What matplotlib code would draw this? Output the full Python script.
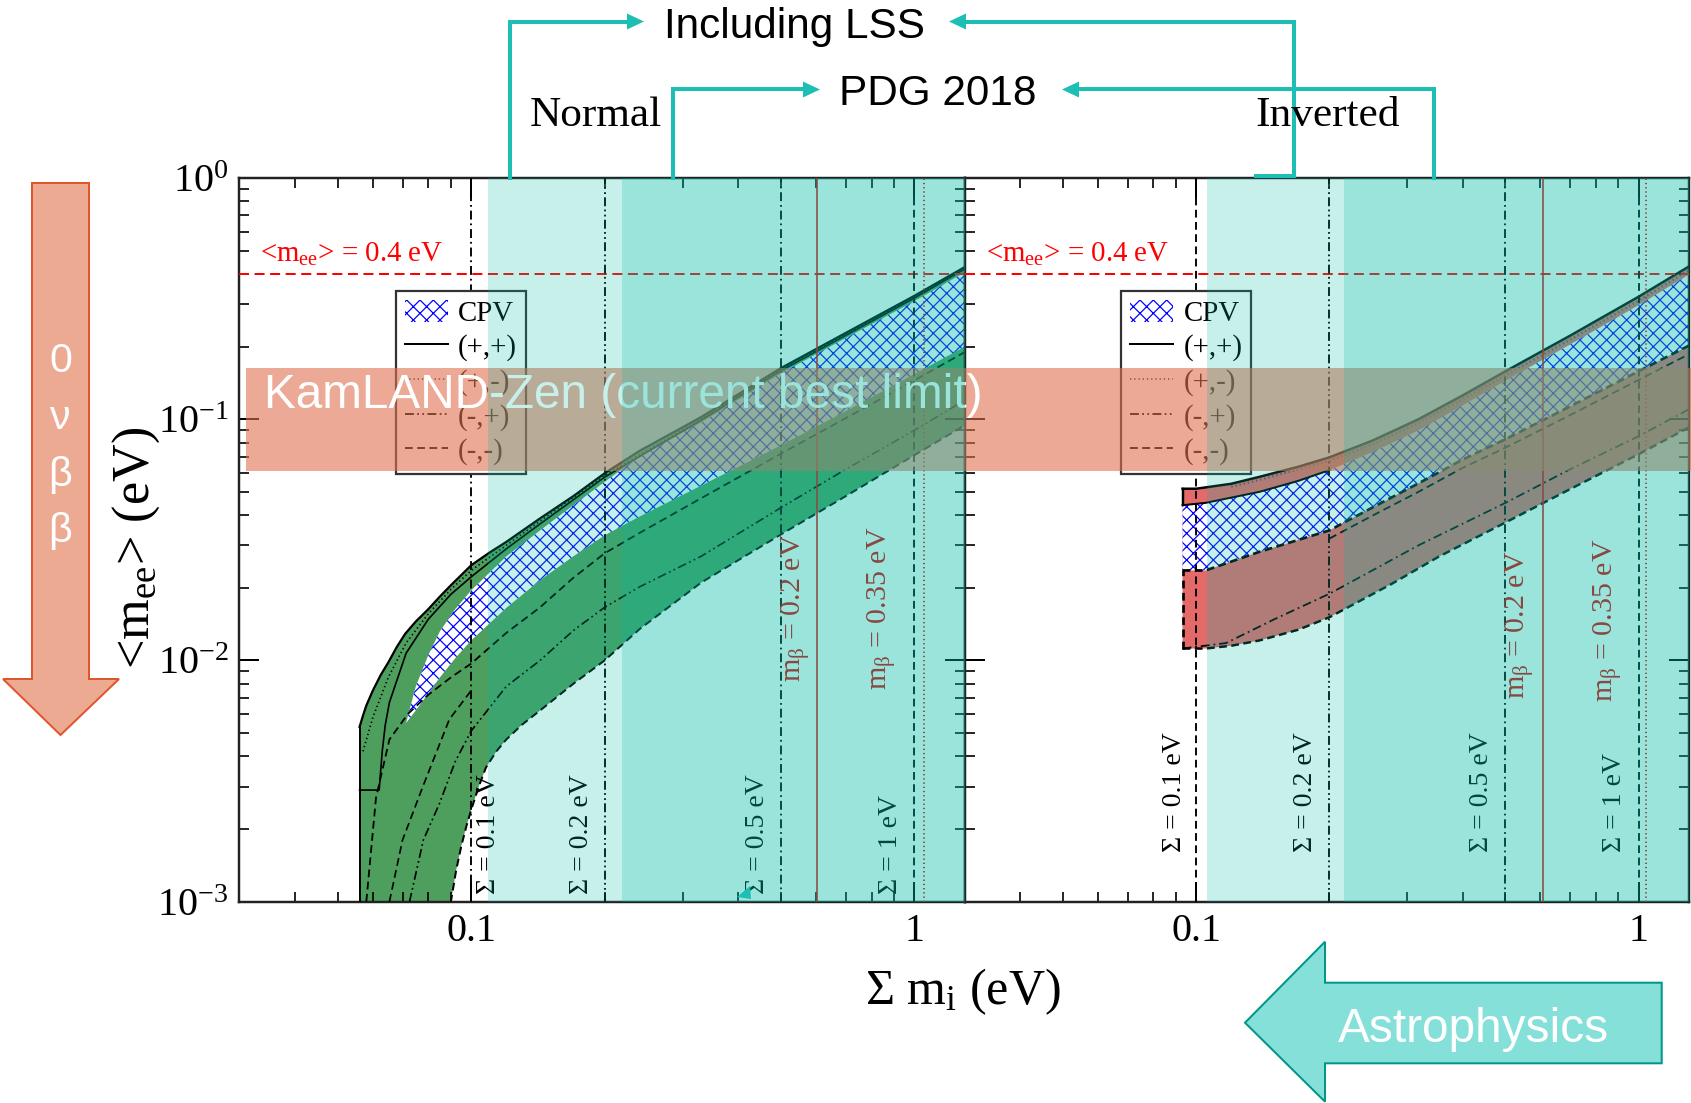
import numpy as np
import matplotlib
matplotlib.use('Agg')
import matplotlib.pyplot as plt
from matplotlib.patches import Rectangle, Polygon, Patch
from matplotlib.lines import Line2D
import matplotlib.transforms as mtransforms
from matplotlib.ticker import LogLocator, NullFormatter, FuncFormatter, LogFormatterMathtext

W, H, DPI = 1691, 1103, 80
plt.rcParams['font.family'] = ['Liberation Serif', 'DejaVu Serif']
plt.rcParams['mathtext.fontset'] = 'custom'
plt.rcParams['mathtext.rm'] = 'Liberation Serif'
plt.rcParams['mathtext.it'] = 'Liberation Serif:italic'
plt.rcParams['mathtext.bf'] = 'Liberation Serif:bold'
plt.rcParams['hatch.linewidth'] = 1.1
plt.rcParams['lines.scale_dashes'] = False

# ---------------- data ----------------
# Normal ordering (left panel)
NO_top_sum = [0.056, 0.057, 0.058, 0.060, 0.0625, 0.065, 0.068, 0.071, 0.075, 0.080, 0.085, 0.090, 0.095, 0.100, 0.110, 0.120, 0.143, 0.170, 0.200, 0.240, 0.330, 0.500, 0.700, 1.000, 1.300]
NO_top_mee = [0.0053, 0.0059, 0.0065, 0.0075, 0.0087, 0.0098, 0.0114, 0.0129, 0.0145, 0.0163, 0.0184, 0.0205, 0.0226, 0.0248, 0.0280, 0.0310, 0.0388, 0.0480, 0.0597, 0.0740, 0.1020, 0.1630, 0.2280, 0.3250, 0.4280]
NO_low_sum = [0.088, 0.090, 0.0925, 0.095, 0.0975, 0.100, 0.104, 0.108, 0.114, 0.120, 0.130, 0.143, 0.170, 0.200, 0.240, 0.330, 0.500, 0.700, 1.000, 1.300]
NO_low_mee = [0.0007, 0.0010, 0.00135, 0.0017, 0.00205, 0.0024, 0.0030, 0.0036, 0.0042, 0.0047, 0.0054, 0.0062, 0.0080, 0.0100, 0.0135, 0.0210, 0.0333, 0.0480, 0.0710, 0.0944]
NO_cpv_sum = [0.0713, 0.075, 0.080, 0.085, 0.092, 0.100, 0.120, 0.143, 0.170, 0.200, 0.240, 0.330, 0.500, 0.700, 1.000, 1.300]
NO_cpv_hi = [0.0055, 0.0078, 0.0105, 0.0132, 0.0163, 0.0195, 0.0270, 0.0346, 0.0440, 0.0550, 0.0703, 0.0970, 0.1550, 0.2170, 0.3090, 0.4070]
NO_cpv_lo = [0.0055, 0.0062, 0.0073, 0.0085, 0.0102, 0.0121, 0.0165, 0.0215, 0.0270, 0.0330, 0.0395, 0.0530, 0.0780, 0.1080, 0.1540, 0.2000]
NO_solid2_sum = [0.056, 0.062, 0.063, 0.064, 0.0654, 0.0713, 0.080, 0.090, 0.100, 0.120, 0.143, 0.200, 0.330, 0.500, 1.000, 1.300]
NO_solid2_mee = [0.0029, 0.0029, 0.0042, 0.0054, 0.0067, 0.0107, 0.0148, 0.0188, 0.0222, 0.0290, 0.0368, 0.0575, 0.0990, 0.1590, 0.3180, 0.4200]
NO_dot_sum = [0.057, 0.060, 0.065, 0.0713, 0.080, 0.090, 0.100, 0.120, 0.143, 0.200, 0.330, 0.500, 1.000, 1.300]
NO_dot_mee = [0.0042, 0.0058, 0.0085, 0.0118, 0.0156, 0.0197, 0.0236, 0.0300, 0.0378, 0.0585, 0.1000, 0.1610, 0.3210, 0.4240]
NO_dash_sum = [0.058, 0.061, 0.0654, 0.072, 0.080, 0.090, 0.100, 0.120, 0.143, 0.170, 0.200, 0.240, 0.330, 0.500, 0.700, 1.000, 1.300]
NO_dash_mee = [0.0010, 0.0027, 0.0047, 0.0060, 0.0072, 0.0085, 0.0097, 0.0130, 0.0166, 0.0220, 0.0278, 0.0338, 0.0470, 0.0720, 0.1010, 0.1450, 0.1900]
NO_dash2_sum = [0.0654, 0.0700, 0.0778, 0.0893, 0.1000]
NO_dash2_mee = [0.0010, 0.0018, 0.0030, 0.0057, 0.0075]
NO_dd_sum = [0.0726, 0.0780, 0.0848, 0.092, 0.100, 0.120, 0.143, 0.170, 0.200, 0.240, 0.330, 0.500, 0.700, 1.000, 1.300]
NO_dd_mee = [0.0010, 0.0018, 0.00255, 0.0038, 0.0051, 0.0078, 0.0100, 0.0133, 0.0166, 0.0202, 0.0270, 0.0430, 0.0620, 0.0900, 0.1200]

# Inverted ordering (right panel)
IO_top_sum = [0.0931, 0.100, 0.120, 0.139, 0.170, 0.200, 0.250, 0.318, 0.400, 0.500, 0.700, 1.000, 1.300]
IO_top_mee = [0.0515, 0.0515, 0.0540, 0.0577, 0.0635, 0.0695, 0.0815, 0.1000, 0.1255, 0.1580, 0.2220, 0.3220, 0.4300]
IO_cpvhi_sum = [0.0931, 0.105, 0.139, 0.170, 0.200, 0.250, 0.318, 0.400, 0.500, 0.700, 1.000, 1.300]
IO_cpvhi_mee = [0.0440, 0.0450, 0.0500, 0.0555, 0.0615, 0.0730, 0.0900, 0.1140, 0.1445, 0.2040, 0.2970, 0.3980]
IO_cpvlo_sum = [0.0931, 0.105, 0.139, 0.200, 0.250, 0.318, 0.400, 0.500, 0.700, 1.000, 1.300]
IO_cpvlo_mee = [0.0236, 0.0236, 0.0282, 0.0346, 0.0430, 0.0542, 0.0680, 0.0826, 0.1130, 0.1580, 0.2020]
IO_dash2_mee = [0.0222, 0.0222, 0.0262, 0.0320, 0.0398, 0.0500, 0.0628, 0.0762, 0.1040, 0.1455, 0.1860]
IO_low_sum = [0.0931, 0.105, 0.120, 0.139, 0.170, 0.200, 0.277, 0.353, 0.500, 0.700, 1.000, 1.300]
IO_low_mee = [0.0112, 0.0112, 0.0115, 0.0121, 0.0134, 0.0151, 0.0208, 0.0269, 0.0373, 0.0513, 0.0716, 0.0925]
IO_dd_sum = [0.0931, 0.1167, 0.150, 0.200, 0.318, 0.500, 0.700, 1.000, 1.300]
IO_dd_mee = [0.0112, 0.0118, 0.0148, 0.0189, 0.0300, 0.0450, 0.0620, 0.0850, 0.1100]
IO_dot_sum = [0.120, 0.139, 0.200, 0.250, 0.318, 0.400, 0.500, 0.700, 1.000, 1.300]
IO_dot_mee = [0.0525, 0.0560, 0.0672, 0.0785, 0.0965, 0.1210, 0.1520, 0.2135, 0.3100, 0.4150]

sigma_values = [0.1, 0.2, 0.5, 1.0]
sigma_labels = ['Σ = 0.1 eV', 'Σ = 0.2 eV', 'Σ = 0.5 eV', 'Σ = 1 eV']
NO_sigma_label_x = [0.1095, 0.1774, 0.4425, 0.885]
IO_sigma_label_x = [0.0894, 0.177, 0.442, 0.88]
NO_mbeta_sum = [0.603, 1.05]
IO_mbeta_sum = [0.607, 1.04]
mbeta_labels = ['m$_{\\mathrm{β}}$ = 0.2 eV', 'm$_{\\mathrm{β}}$ = 0.35 eV']
NO_mbeta_label_pos = [(0.539, 0.0166), (0.843, 0.0164)]
IO_mbeta_label_pos = [(0.537, 0.0140), (0.851, 0.0147)]
mee_limit = 0.4
kamland_range = (0.0607, 0.163)
NO_teal_edges = [0.109, 0.219]
IO_teal_edges = [0.106, 0.216]
legend_labels = ['CPV', '(+,+)', '(+,-)', '(-,+)', '(-,-)']

# ---------------- styles ----------------
DASHDOT = (0, (8, 3.5, 1.6, 3.5))
DASHDOTDOT = (0, (8, 3, 1.6, 3, 1.6, 3))
DASHED = (0, (7, 4))
DOTTED = (0, (1.2, 2.6))
GREEN = '#4E9E5E'
RED = '#E46A6A'
TEAL = '#00BBA7'
CONN = '#1DBFB4'
HATCH = 'xx'


def P(x, y):
    return (x / W, 1 - y / H)


fig = plt.figure(figsize=(W / DPI, H / DPI), dpi=DPI)
axL = fig.add_axes([0.14157, 0.18259, 0.42910, 0.65603])
axR = fig.add_axes([0.57067, 0.18259, 0.42815, 0.65603])

for ax in (axL, axR):
    ax.set_xscale('log')
    ax.set_yscale('log')
    ax.set_xlim(0.03, 1.3)
    ax.set_ylim(1e-3, 1)
    ax.xaxis.set_major_locator(LogLocator(base=10, numticks=10))
    ax.xaxis.set_minor_locator(LogLocator(base=10, subs=np.arange(2, 10), numticks=20))
    ax.yaxis.set_major_locator(LogLocator(base=10, numticks=10))
    ax.yaxis.set_minor_locator(LogLocator(base=10, subs=np.arange(2, 10), numticks=20))
    ax.xaxis.set_major_formatter(FuncFormatter(lambda v, p: f'{v:g}'))
    ax.xaxis.set_minor_formatter(NullFormatter())
    ax.tick_params(which='both', direction='in', top=True, right=True)
    ax.tick_params(which='major', length=18, width=1.8, labelsize=36, pad=10)
    ax.tick_params(which='minor', length=9, width=1.5)
    for s in ax.spines.values():
        s.set_linewidth(2.2)
        s.set_color('#222222')
    ax.axhline(mee_limit, color='red', lw=1.8, ls=(0, (9, 5)), zorder=4)
    ax.text(0.0334, 0.448, '<m$_{\\mathrm{ee}}$> = 0.4 eV', color='red', fontsize=26,
            ha='left', va='baseline', zorder=5)

axL.yaxis.set_major_formatter(LogFormatterMathtext())
axR.yaxis.set_major_formatter(NullFormatter())
axR.yaxis.set_minor_formatter(NullFormatter())

# ---- Normal ordering ----
axL.fill(NO_top_sum + NO_low_sum[::-1] + [0.056], NO_top_mee + NO_low_mee[::-1] + [0.0007],
         facecolor=GREEN, edgecolor='none', zorder=1)
axL.fill(NO_cpv_sum + NO_cpv_sum[::-1], NO_cpv_hi + NO_cpv_lo[::-1],
         facecolor='white', edgecolor='blue', hatch=HATCH, lw=0, zorder=2)
axL.plot(NO_top_sum, NO_top_mee, color='k', lw=2.0, zorder=3)
axL.plot([0.056, 0.056], [0.0007, 0.0053], color='k', lw=1.8, zorder=3)
axL.plot(NO_solid2_sum, NO_solid2_mee, color='k', lw=1.5, zorder=3)
axL.plot(NO_dot_sum, NO_dot_mee, color='k', lw=1.5, ls=DOTTED, zorder=3)
axL.plot(NO_dash_sum, NO_dash_mee, color='k', lw=1.6, ls=DASHED, zorder=3)
axL.plot(NO_dash2_sum, NO_dash2_mee, color='k', lw=1.5, ls=DASHED, zorder=3)
axL.plot(NO_dd_sum, NO_dd_mee, color='k', lw=1.5, ls=DASHDOTDOT, zorder=3)
axL.plot(NO_low_sum, NO_low_mee, color='k', lw=1.8, ls=DASHED, zorder=3)

# ---- Inverted ordering ----
axR.fill(IO_top_sum + IO_low_sum[::-1], IO_top_mee + IO_low_mee[::-1],
         facecolor=RED, edgecolor='none', zorder=1)
axR.fill(IO_cpvhi_sum + IO_cpvlo_sum[::-1], IO_cpvhi_mee + IO_cpvlo_mee[::-1],
         facecolor='white', edgecolor='blue', hatch=HATCH, lw=0, zorder=2)
axR.plot(IO_top_sum, IO_top_mee, color='k', lw=2.2, zorder=3)
axR.plot(IO_cpvhi_sum[:5], IO_cpvhi_mee[:5], color='k', lw=1.8, zorder=3)
axR.plot([0.0931, 0.0931], [0.0440, 0.0515], color='k', lw=2.2, zorder=3)
axR.plot(IO_dot_sum, IO_dot_mee, color='#555555', lw=2.0, ls=DOTTED, zorder=3)
axR.plot(IO_cpvlo_sum, IO_cpvlo_mee, color='k', lw=2.4, ls=DASHED, zorder=3)
axR.plot(IO_cpvlo_sum[3:], IO_dash2_mee[3:], color='k', lw=1.6, ls=DASHED, zorder=3)
axR.plot(IO_dd_sum, IO_dd_mee, color='k', lw=1.6, ls=DASHDOT, zorder=3)
axR.plot(IO_low_sum, IO_low_mee, color='k', lw=2.2, ls=DASHED, zorder=3)
axR.plot([0.0931, 0.0931], [0.0112, 0.0236], color='k', lw=2.4, ls=DASHED, zorder=3)

# ---- vertical reference lines ----
NO_styles = [DASHDOT, DASHDOTDOT, DASHDOT, DASHED]
IO_styles = [DASHED, DASHDOTDOT, DASHDOT, DASHED]
for ax, styles, lx, ly in ((axL, NO_styles, NO_sigma_label_x, 1.08e-3),
                           (axR, IO_styles, IO_sigma_label_x, 1.6e-3)):
    for v, st, lab, x in zip(sigma_values, styles, sigma_labels, lx):
        ax.axvline(v, color='k', lw=1.7, ls=st, zorder=4)
        ax.text(x, ly, lab, rotation=90, fontsize=25, ha='center', va='bottom', zorder=5)

for ax, sums, pos in ((axL, NO_mbeta_sum, NO_mbeta_label_pos), (axR, IO_mbeta_sum, IO_mbeta_label_pos)):
    ax.axvline(sums[0], color='#E00000', lw=1.4, ls='-', zorder=4)
    ax.axvline(sums[1], color='#E00000', lw=1.6, ls=DOTTED, zorder=4)
    for (x, y), lab in zip(pos, mbeta_labels):
        ax.text(x, y, lab, rotation=90, fontsize=27, color='#E00000', ha='center', va='center', zorder=5)

# ---- legends ----
for ax in (axL, axR):
    handles = [Patch(facecolor='white', edgecolor='blue', hatch=HATCH, lw=0),
               Line2D([], [], color='k', lw=1.8),
               Line2D([], [], color='#555555', lw=1.8, ls=DOTTED),
               Line2D([], [], color='k', lw=1.8, ls=DASHDOTDOT),
               Line2D([], [], color='k', lw=1.8, ls=DASHED)]
    leg = ax.legend(handles, legend_labels, loc='upper left', bbox_to_anchor=(0.216, 0.844),
                    borderaxespad=0, fontsize=26, frameon=True, fancybox=False,
                    framealpha=1, edgecolor='#333333', handlelength=1.5,
                    handletextpad=0.35, labelspacing=0.25, borderpad=0.3, handleheight=0.8)
    leg.get_frame().set_linewidth(2.0)
    leg.set_zorder(6)

# ---- figure-level overlays ----
blend = mtransforms.blended_transform_factory(fig.transFigure, axL.transData)
fig.add_artist(Rectangle((246 / W, kamland_range[0]), 1 - 246 / W, kamland_range[1] - kamland_range[0],
                         transform=blend, facecolor='#E07050', alpha=0.6, edgecolor='none', zorder=10))
fig.text(*P(264, 407.6), 'KamLAND-Zen (current best limit)', color='white', fontsize=43,
         family=['Liberation Sans', 'DejaVu Sans'], ha='left', va='baseline', zorder=11)

for ax, edges in ((axL, NO_teal_edges), (axR, IO_teal_edges)):
    tr = mtransforms.blended_transform_factory(ax.transData, ax.transAxes)
    for e in edges:
        fig.add_artist(Rectangle((e, 0), 1.3 - e, 1, transform=tr, facecolor=TEAL,
                                 alpha=0.22, edgecolor='none', zorder=12))


def connector(pts, head_dir):
    xs = [P(x, y)[0] for x, y in pts]
    ys = [P(x, y)[1] for x, y in pts]
    fig.add_artist(Line2D(xs, ys, color=CONN, lw=3.6, solid_joinstyle='miter', zorder=13))
    x, y = pts[-1]
    L, hw = 17, 8
    tipx = x + head_dir * L
    tri = [P(tipx, y), P(x, y - hw), P(x, y + hw)]
    fig.add_artist(Polygon(tri, closed=True, facecolor=CONN, edgecolor='none', zorder=13))


connector([(510, 178), (510, 21.5), (627, 21.5)], 1)
connector([(673, 178), (673, 89.5), (803, 89.5)], 1)
connector([(1256, 176), (1294, 176), (1294, 21.5), (966, 21.5)], -1)
connector([(1434, 178), (1434, 89.5), (1079, 89.5)], -1)
fig.add_artist(Polygon([P(737, 897), P(750, 886), P(751, 899)], closed=True,
                       facecolor=CONN, edgecolor='none', zorder=13))

sans = ['Liberation Sans', 'DejaVu Sans']
fig.text(*P(794, 37.7), 'Including LSS', fontsize=38, family=sans, ha='center', va='baseline', zorder=14)
fig.text(*P(938, 104.6), 'PDG 2018', fontsize=38, family=sans, ha='center', va='baseline', zorder=14)
fig.text(*P(596, 126), 'Normal', fontsize=39, ha='center', va='baseline', zorder=14)
fig.text(*P(1327.5, 126), 'Inverted', fontsize=39, ha='center', va='baseline', zorder=14)

# axis labels
fig.text(*P(963, 992), 'Σ m$_{\\mathrm{i}}$ (eV)', fontsize=45, ha='center', va='center')
fig.text(*P(136, 548), '<m$_{\\mathrm{ee}}$> (eV)', fontsize=47, rotation=90, ha='center', va='center')

# 0vbb arrow
arrow1 = [P(32, 183), P(89, 183), P(89, 679), P(119, 679), P(60.5, 735),
          P(3, 679), P(32, 679)]
fig.add_artist(Polygon(arrow1, closed=True, facecolor='#EDAA93', edgecolor='#E0562C', lw=1.8, zorder=13))
for ch, yy in zip(['0', 'ν', 'β', 'β'], [361, 418, 474.5, 530.6]):
    fig.text(*P(60.5, yy), ch, fontsize=37, family=sans, color='white', ha='center', va='center', zorder=14)

# Astrophysics arrow
arrow2 = [P(1245, 1022.7), P(1325, 941.7), P(1325, 982.7), P(1661.7, 982.7),
          P(1661.7, 1063.3), P(1325, 1063.3), P(1325, 1101.7)]
fig.add_artist(Polygon(arrow2, closed=True, facecolor='#84E0D9', edgecolor='#009688', lw=1.8, zorder=13))
fig.text(*P(1473, 1041.7), 'Astrophysics', fontsize=43, family=sans, color='white',
         ha='center', va='baseline', zorder=14)

fig.savefig('out.png', dpi=DPI)
